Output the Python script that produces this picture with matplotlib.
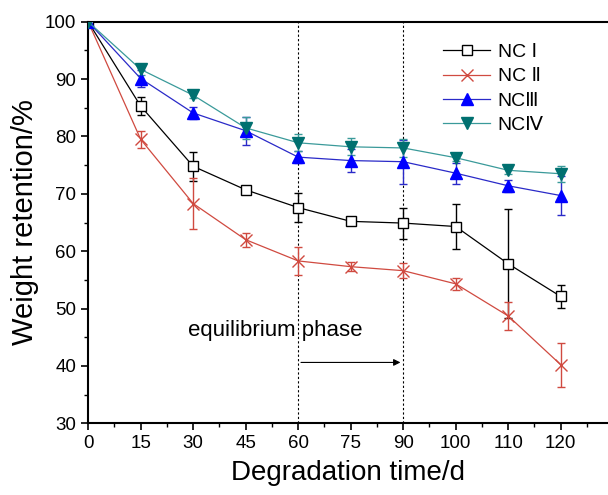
import numpy as np
import matplotlib
matplotlib.use("Agg")
import matplotlib.pyplot as plt
from matplotlib.ticker import MultipleLocator
from matplotlib.lines import Line2D

plt.rcParams['font.family'] = ['Liberation Sans', 'DejaVu Sans', 'Noto Sans CJK SC']

days = ['0', '15', '30', '45', '60', '75', '90', '100', '110', '120']

nc1 = [100, 85.3, 74.8, 70.7, 67.6, 65.2, 64.9, 64.3, 57.8, 52.1]
nc1_err = [0, 1.5, 2.5, 0.5, 2.5, 0.3, 2.7, 4.0, 9.5, 2.0]
nc2 = [100, 79.5, 68.3, 62.0, 58.3, 57.3, 56.6, 54.3, 48.7, 40.2]
nc2_err = [0, 1.5, 4.5, 1.2, 2.5, 0.8, 1.3, 1.1, 2.5, 3.8]
nc3 = [100, 90.1, 84.1, 81.0, 76.4, 75.8, 75.6, 73.6, 71.4, 69.7]
nc3_err = [0, 1.5, 1.0, 2.4, 1.0, 2.0, 3.8, 1.8, 1.0, 3.4]
nc4 = [100, 91.7, 87.2, 81.5, 78.9, 78.2, 78.0, 76.3, 74.1, 73.5]
nc4_err = [0, 1.0, 0.5, 1.9, 1.5, 1.5, 1.5, 0.5, 0.7, 1.4]

labels = ['NC Ⅰ', 'NC Ⅱ', 'NCⅢ', 'NCⅣ']

x = np.arange(len(days))

fig = plt.figure(figsize=(6.08, 4.95), dpi=100)
ax = fig.add_axes([0.145, 0.145, 0.855, 0.811])

styles = [
    dict(color='black', marker='s', ms=7, mfc='white', mec='black', mew=1),
    dict(color='#d04a40', marker='x', ms=9, mfc='#d04a40', mec='#d04a40', mew=1),
    dict(color='#2a2ac8', marker='^', ms=8, mfc='#0000ff', mec='#0000ff', mew=1),
    dict(color='#3a9a9a', marker='v', ms=8, mfc='#007070', mec='#007070', mew=1),
]
series = [(nc1, nc1_err), (nc2, nc2_err), (nc3, nc3_err), (nc4, nc4_err)]

handles = []
for (vals, errs), st, lab in zip(series, styles, labels):
    ax.errorbar(x, vals, yerr=errs, lw=0.9, capsize=3, elinewidth=1, zorder=3, **st)
    handles.append(Line2D([], [], lw=0.9, label=lab, **st))

# equilibrium phase markers
ax.axvline(4, color='black', ls=(0, (2, 2)), lw=0.8)
ax.axvline(6, color='black', ls=(0, (2, 2)), lw=0.8)
ax.annotate('', xy=(6, 40.6), xytext=(4, 40.6),
            arrowprops=dict(arrowstyle='-|>', color='black', lw=0.8, mutation_scale=10))
ax.text(1.9, 46.2, 'equilibrium phase', fontsize=16, va='center')

ax.set_xlim(0, 9.9)
ax.set_ylim(30, 100)
ax.set_xticks(x)
ax.set_xticklabels(days)
ax.xaxis.set_minor_locator(MultipleLocator(0.5))
ax.yaxis.set_major_locator(MultipleLocator(10))
ax.yaxis.set_minor_locator(MultipleLocator(5))
ax.tick_params(which='major', direction='out', length=5, width=1.2, labelsize=13.5)
ax.tick_params(which='minor', direction='out', length=3, width=1.0)
ax.spines['right'].set_visible(False)
for s in ['left', 'bottom', 'top']:
    ax.spines[s].set_linewidth(1.5)

ax.set_xlabel('Degradation time/d', fontsize=20, labelpad=6)
ax.set_ylabel('Weight retention/%', fontsize=21, labelpad=4)

ax.legend(handles=handles, loc='upper right', bbox_to_anchor=(0.91, 0.99), frameon=False,
          fontsize=14, handlelength=2.4, labelspacing=0.35, handletextpad=0.4)

fig.savefig('out.png', dpi=100)
